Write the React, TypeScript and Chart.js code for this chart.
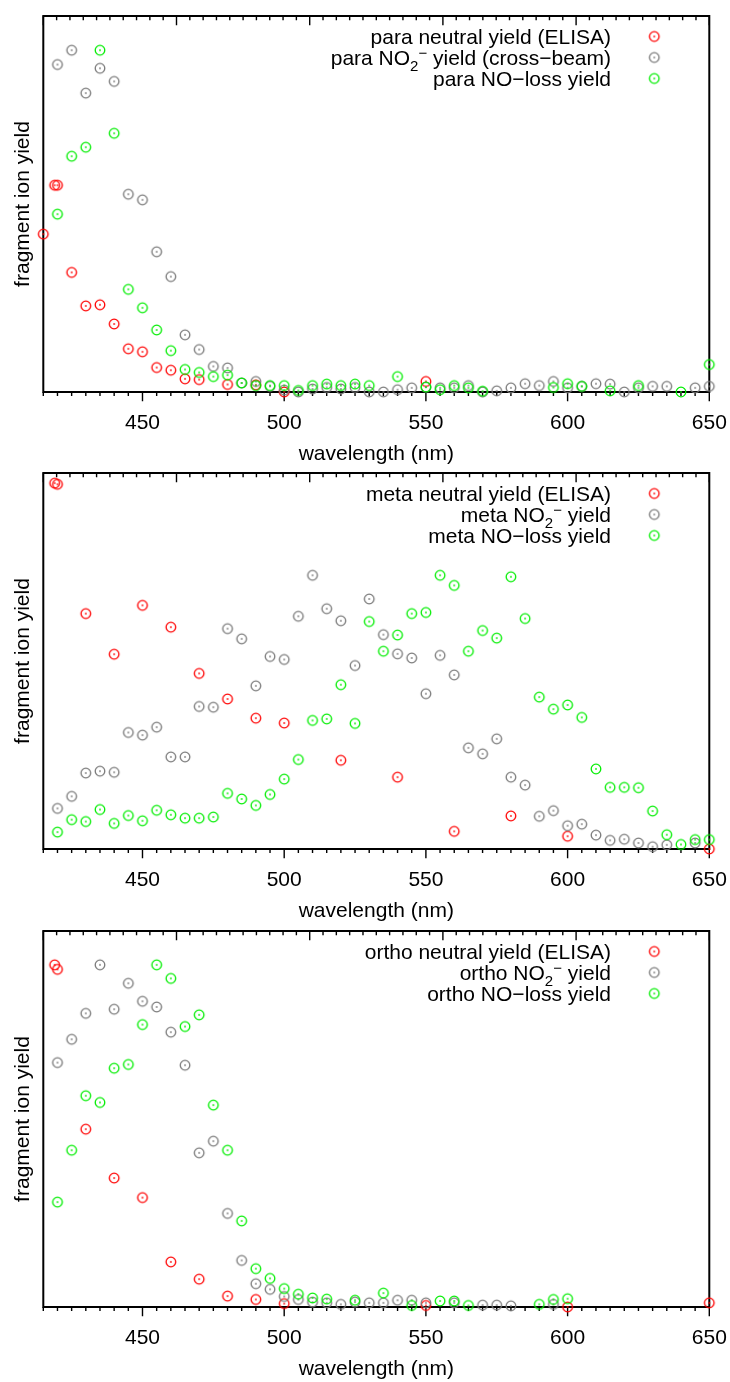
import React, { useEffect, useRef } from "react";
import { Chart, registerables } from "chart.js";
Chart.register(...registerables);

// ---------- data ----------
const X_MIN = 415;
const X_MAX = 650;
const X_TICK_LABELS = [450, 500, 550, 600, 650];
const X_MINOR_STEP = 5;
const TOP_DIVISIONS = 50;
const TOP_MAJOR_EVERY = 10;

const X_TITLE = "wavelength (nm)";
const Y_TITLE = "fragment ion yield";

// para
const paraNeutral = [
  [415, 0.42], [419, 0.55], [420, 0.55], [425, 0.318], [430, 0.229], [435, 0.232],
  [440, 0.181], [445, 0.115], [450, 0.107], [455, 0.065], [460, 0.058], [465, 0.035],
  [470, 0.033], [480, 0.02], [490, 0.019], [500, 0.0], [550, 0.028],
];
const paraNO2 = [
  [420, 0.871], [425, 0.909], [430, 0.795], [435, 0.861], [440, 0.826], [445, 0.526],
  [450, 0.511], [455, 0.373], [460, 0.307], [465, 0.152], [470, 0.113], [475, 0.068],
  [480, 0.064], [485, 0.024], [490, 0.028], [495, 0.015], [500, 0.005], [505, 0.0],
  [510, 0.008], [515, 0.012], [520, 0.008], [525, 0.012], [530, 0.0], [535, 0.0],
  [540, 0.006], [545, 0.011], [550, 0.013], [555, 0.011], [560, 0.011], [565, 0.017],
  [570, 0.0], [575, 0.003], [580, 0.011], [585, 0.022], [590, 0.017], [595, 0.028],
  [600, 0.011], [605, 0.015], [610, 0.022], [615, 0.021], [620, 0.0], [625, 0.011],
  [630, 0.015], [635, 0.015], [645, 0.011], [650, 0.015],
];
const paraNOloss = [
  [420, 0.473], [425, 0.627], [430, 0.651], [435, 0.909], [440, 0.688], [445, 0.273],
  [450, 0.224], [455, 0.165], [460, 0.11], [465, 0.06], [470, 0.052], [475, 0.041],
  [480, 0.045], [485, 0.024], [490, 0.017], [495, 0.017], [500, 0.017], [505, 0.004],
  [510, 0.017], [515, 0.021], [520, 0.017], [525, 0.021], [530, 0.017], [540, 0.041],
  [550, 0.013], [555, 0.006], [560, 0.017], [565, 0.011], [570, 0.002], [595, 0.012],
  [600, 0.022], [605, 0.015], [615, 0.003], [625, 0.017], [640, 0.0], [650, 0.073],
];

// meta
const metaNeutral = [
  [419, 0.973], [420, 0.97], [430, 0.626], [440, 0.518], [450, 0.648], [460, 0.59],
  [470, 0.467], [480, 0.399], [490, 0.348], [500, 0.335], [520, 0.236], [540, 0.191],
  [560, 0.047], [580, 0.088], [600, 0.034], [650, 0.0],
];
const metaNO2 = [
  [420, 0.108], [425, 0.14], [430, 0.202], [435, 0.207], [440, 0.204], [445, 0.31],
  [450, 0.303], [455, 0.324], [460, 0.245], [465, 0.245], [470, 0.379], [475, 0.377],
  [480, 0.586], [485, 0.559], [490, 0.434], [495, 0.512], [500, 0.504], [505, 0.619],
  [510, 0.728], [515, 0.639], [520, 0.607], [525, 0.488], [530, 0.665], [535, 0.57],
  [540, 0.519], [545, 0.508], [550, 0.413], [555, 0.515], [560, 0.463], [565, 0.269],
  [570, 0.253], [575, 0.293], [580, 0.191], [585, 0.17], [590, 0.087], [595, 0.102],
  [600, 0.062], [605, 0.066], [610, 0.037], [615, 0.023], [620, 0.026], [625, 0.016],
  [630, 0.006], [635, 0.011], [645, 0.016],
];
const metaNOloss = [
  [420, 0.045], [425, 0.078], [430, 0.073], [435, 0.105], [440, 0.068], [445, 0.089],
  [450, 0.075], [455, 0.103], [460, 0.091], [465, 0.082], [470, 0.082], [475, 0.085],
  [480, 0.148], [485, 0.133], [490, 0.116], [495, 0.145], [500, 0.186], [505, 0.238],
  [510, 0.342], [515, 0.346], [520, 0.437], [525, 0.334], [530, 0.605], [535, 0.526],
  [540, 0.569], [545, 0.626], [550, 0.629], [555, 0.728], [560, 0.701], [565, 0.526],
  [570, 0.581], [575, 0.561], [580, 0.724], [585, 0.613], [590, 0.404], [595, 0.372],
  [600, 0.383], [605, 0.35], [610, 0.213], [615, 0.164], [620, 0.164], [625, 0.163],
  [630, 0.101], [635, 0.038], [640, 0.012], [645, 0.025], [650, 0.025],
];

// ortho
const orthoNeutral = [
  [419, 0.91], [420, 0.898], [430, 0.473], [440, 0.343], [450, 0.291], [460, 0.12],
  [470, 0.074], [480, 0.029], [490, 0.02], [500, 0.009], [550, 0.004], [600, 0.0],
  [650, 0.011],
];
const orthoNO2 = [
  [420, 0.65], [425, 0.712], [430, 0.781], [435, 0.91], [440, 0.792], [445, 0.861],
  [450, 0.813], [455, 0.798], [460, 0.731], [465, 0.643], [470, 0.41], [475, 0.441],
  [480, 0.249], [485, 0.124], [490, 0.062], [495, 0.047], [500, 0.028], [505, 0.02],
  [510, 0.013], [515, 0.011], [520, 0.007], [525, 0.013], [530, 0.011], [535, 0.011],
  [540, 0.018], [545, 0.018], [550, 0.011], [560, 0.011], [570, 0.005], [575, 0.005],
  [580, 0.003], [595, 0.007],
];
const orthoNOloss = [
  [420, 0.279], [425, 0.417], [430, 0.562], [435, 0.544], [440, 0.635], [445, 0.645],
  [450, 0.751], [455, 0.91], [460, 0.874], [465, 0.746], [470, 0.777], [475, 0.537],
  [480, 0.417], [485, 0.229], [490, 0.102], [495, 0.076], [500, 0.049], [505, 0.034],
  [510, 0.024], [515, 0.021], [525, 0.018], [535, 0.037], [545, 0.004], [555, 0.016],
  [560, 0.016], [565, 0.004], [590, 0.007], [595, 0.02], [600, 0.022],
];

const COLOR_NEUTRAL = "#ff0000";
const COLOR_NO2 = "#7a7a7a";
const COLOR_NOLOSS = "#00ee00";

type Seg = { t: string; k?: "sub" | "sup" };
type Row = { segs: Seg[]; color: string };

const legendFor = (iso: string, no2Suffix: string): Row[] => [
  { segs: [{ t: `${iso} neutral yield (ELISA)` }], color: COLOR_NEUTRAL },
  {
    segs: [{ t: `${iso} NO` }, { t: "2", k: "sub" }, { t: "\u2212", k: "sup" }, { t: ` yield${no2Suffix}` }],
    color: COLOR_NO2,
  },
  { segs: [{ t: `${iso} NO\u2212loss yield` }], color: COLOR_NOLOSS },
];

const PANELS = [
  { top: 0, neutral: paraNeutral, no2: paraNO2, noloss: paraNOloss, legend: legendFor("para", " (cross\u2212beam)"), names: ["para neutral", "para NO2-", "para NO-loss"] },
  { top: 457, neutral: metaNeutral, no2: metaNO2, noloss: metaNOloss, legend: legendFor("meta", ""), names: ["meta neutral", "meta NO2-", "meta NO-loss"] },
  { top: 915, neutral: orthoNeutral, no2: orthoNO2, noloss: orthoNOloss, legend: legendFor("ortho", ""), names: ["ortho neutral", "ortho NO2-", "ortho NO-loss"] },
];

// ---------- styling ----------
const W = 730;
const H = 467;
const FONT = "'Liberation Sans', Arial, Helvetica, sans-serif";
const FS = 21;

const markerCache: Record<string, HTMLCanvasElement> = {};
function marker(color: string): HTMLCanvasElement {
  if (markerCache[color]) return markerCache[color];
  const c = document.createElement("canvas");
  c.width = 14;
  c.height = 14;
  const g = c.getContext("2d")!;
  g.strokeStyle = color;
  g.lineWidth = 1.3;
  g.beginPath();
  g.arc(7, 7, 4.8, 0, Math.PI * 2);
  g.stroke();
  g.fillStyle = color;
  g.fillRect(6.2, 6.2, 1.6, 1.6);
  markerCache[color] = c;
  return c;
}

const framePlugin = {
  id: "frameTicks",
  beforeDatasetsDraw(chart: any) {
    const { ctx, chartArea: a } = chart;
    const xs = chart.scales.x;
    ctx.save();
    ctx.strokeStyle = "#000";
    ctx.lineWidth = 2;
    ctx.strokeRect(a.left, a.top, a.right - a.left, a.bottom - a.top);
    ctx.lineWidth = 1.4;
    ctx.beginPath();
    for (let v = X_MIN; v <= X_MAX; v += X_MINOR_STEP) {
      const x = xs.getPixelForValue(v);
      const len = X_TICK_LABELS.includes(v) ? 9.3 : 4;
      ctx.moveTo(x, a.bottom);
      ctx.lineTo(x, a.bottom + len);
    }
    for (let i = 0; i <= TOP_DIVISIONS; i++) {
      const x = a.left + ((a.right - a.left) * i) / TOP_DIVISIONS;
      const len = i % TOP_MAJOR_EVERY === 0 ? 9.3 : 4.3;
      ctx.moveTo(x, a.top);
      ctx.lineTo(x, a.top + len);
    }
    ctx.stroke();
    ctx.restore();
  },
};

function makeLegendPlugin(rows: Row[]) {
  return {
    id: "customLegend",
    afterDatasetsDraw(chart: any) {
      const { ctx, chartArea: a } = chart;
      ctx.save();
      ctx.fillStyle = "#000";
      ctx.textBaseline = "alphabetic";
      const rightX = 611;
      const markX = 654.3;
      rows.forEach((row, i) => {
        const cy = a.top + 20.5 + i * 21;
        const base = cy + 7;
        const fontOf = (s: Seg) => `${s.k ? 15 : FS}px ${FONT}`;
        let total = 0;
        const widths = row.segs.map((s) => {
          ctx.font = fontOf(s);
          const w = ctx.measureText(s.t).width;
          total += w;
          return w;
        });
        let x = rightX - total;
        row.segs.forEach((s, j) => {
          ctx.font = fontOf(s);
          const dy = s.k === "sub" ? 6 : s.k === "sup" ? -7 : 0;
          ctx.fillText(s.t, x, base + dy);
          x += widths[j];
        });
        const m = marker(row.color);
        ctx.drawImage(m, markX - m.width / 2, cy - m.height / 2);
      });
      ctx.restore();
    },
  };
}

function Panel({ p }: { p: (typeof PANELS)[number] }) {
  const ref = useRef<HTMLCanvasElement>(null);
  useEffect(() => {
    const toPts = (arr: number[][]) => arr.map(([x, y]) => ({ x, y }));
    const mk = (label: string, arr: number[][], color: string, order: number) => ({
      label,
      data: toPts(arr),
      pointStyle: marker(color),
      pointRadius: 5,
      showLine: false,
      clip: false as any,
      order,
      borderColor: color,
      backgroundColor: color,
    });
    const chart = new Chart(ref.current!, {
      type: "scatter",
      data: {
        datasets: [
          mk(p.names[0], p.neutral, COLOR_NEUTRAL, 2),
          mk(p.names[1], p.no2, COLOR_NO2, 1),
          mk(p.names[2], p.noloss, COLOR_NOLOSS, 0),
        ],
      },
      options: {
        animation: false,
        responsive: false,
        devicePixelRatio: 1,
        events: [],
        layout: { padding: { top: 16, right: 20.7, left: 0, bottom: 0 } },
        plugins: { legend: { display: false }, tooltip: { enabled: false } },
        scales: {
          x: {
            type: "linear",
            min: X_MIN,
            max: X_MAX,
            afterBuildTicks: (s: any) => {
              s.ticks = X_TICK_LABELS.map((v) => ({ value: v }));
            },
            afterFit: (s: any) => {
              s.height = H - 392;
              s.paddingLeft = 0;
              s.paddingRight = 0;
            },
            ticks: {
              color: "#000",
              font: { family: FONT, size: FS },
              padding: 19,
              maxRotation: 0,
              autoSkip: false,
              callback: (v: any) => String(v),
            },
            grid: { display: false, drawTicks: false },
            border: { display: false },
            title: {
              display: true,
              text: X_TITLE,
              color: "#000",
              font: { family: FONT, size: FS },
              padding: { top: 0, bottom: 0 },
            },
          },
          y: {
            type: "linear",
            min: 0,
            max: 1,
            afterFit: (s: any) => {
              s.width = 43.3;
              s.paddingTop = 0;
              s.paddingBottom = 0;
            },
            ticks: { display: false },
            grid: { display: false, drawTicks: false },
            border: { display: false },
            title: {
              display: true,
              text: Y_TITLE,
              color: "#000",
              font: { family: FONT, size: FS },
              padding: { top: 11, bottom: 0 },
            },
          },
        },
      },
      plugins: [framePlugin, makeLegendPlugin(p.legend)],
    } as any);
    return () => chart.destroy();
  }, []);
  return (
    <canvas
      ref={ref}
      width={W}
      height={H}
      style={{ position: "absolute", left: 0, top: p.top, width: W, height: H }}
    />
  );
}

export default function App() {
  return (
    <div style={{ position: "absolute", left: 0, top: 0, width: W, height: 1382, background: "#fff" }}>
      {PANELS.map((p, i) => (
        <Panel key={i} p={p} />
      ))}
    </div>
  );
}
